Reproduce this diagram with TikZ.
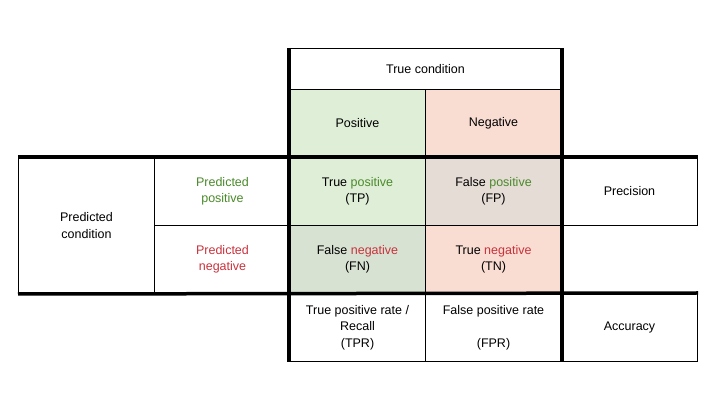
\documentclass[tikz,border=0pt]{standalone}
\usepackage{fontspec}
\setmainfont{Liberation Sans}
\definecolor{gbg}{HTML}{DFEED6}
\definecolor{rbg}{HTML}{F9DCD2}
\definecolor{fpbg}{HTML}{E6DCD6}
\definecolor{fnbg}{HTML}{D8E2D2}
\definecolor{gtx}{HTML}{4A8A2A}
\definecolor{rtx}{HTML}{C8323C}
\begin{document}
\begin{tikzpicture}[x=1pt,y=-1pt,
  cell/.style={draw=black,line width=1pt,minimum width=136pt,minimum height=68pt,inner sep=0pt,align=center,font=\fontsize{12.5}{16.5}\selectfont,anchor=north west},
  thick line/.style={line width=3.5pt}]
\useasboundingbox (0,0) rectangle (716,403);
\node[cell,minimum height=41pt,minimum width=272pt] (tc) at (289,48) {True condition};
\node[cell,fill=gbg] (pos) at (289,89) {Positive};
\node[cell,fill=rbg] (neg) at (425,89) {Negative};
\node[cell,minimum height=136pt] (pc) at (18,157) {Predicted\\condition};
\node[cell,text=gtx] (pp) at (154,157) {Predicted\\positive};
\node[cell,text=rtx] (pn) at (154,225) {Predicted\\negative};
\node[cell,fill=gbg] (tp) at (289,157) {True \textcolor{gtx}{positive}\\(TP)};
\node[cell,fill=fpbg] (fp) at (425,157) {False \textcolor{gtx}{positive}\\(FP)};
\node[cell,fill=fnbg] (fn) at (289,225) {False \textcolor{rtx}{negative}\\(FN)};
\node[cell,fill=rbg] (tn) at (425,225) {True \textcolor{rtx}{negative}\\(TN)};
\node[cell] (prec) at (561,157) {Precision};
\node[cell] (tpr) at (289,293) {True positive rate /\\Recall\\(TPR)};
\node[cell] (fpr) at (425,293) {False positive rate\\[16.5pt](FPR)};
\node[cell] (acc) at (561,293) {Accuracy};
\draw[thick line] (tc.north west) -- (tpr.south west);
\draw[thick line] (tc.north east) -- (fpr.south east);
\draw[thick line] (pc.north west) -- (prec.north east);
\draw[thick line] (pc.south west) -- (acc.north east);
\end{tikzpicture}
\end{document}
